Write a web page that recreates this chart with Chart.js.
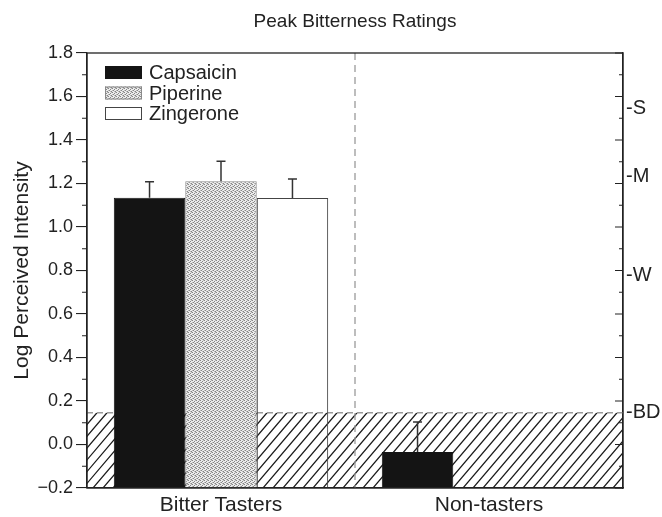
<!DOCTYPE html>
<html>
<head>
<meta charset="utf-8">
<script src="https://cdn.jsdelivr.net/npm/chart.js@4.4.1/dist/chart.umd.min.js"></script>
<style>
  html, body { margin: 0; padding: 0; background: #fff; }
  #wrap { width: 662px; height: 517px; }
</style>
</head>
<body>
<div id="wrap"><canvas id="c" width="662" height="517"></canvas></div>
<script>
// Groups and peak bitterness (log perceived intensity), with upper SE bars
const groups = ['Bitter Tasters', 'Non-tasters'];
const capsaicin = [1.135, -0.034];
const piperine = [1.21, null];
const zingerone = [1.133, null];
const capsaicinErr = [0.073, 0.137];
const piperineErr = [0.092, null];
const zingeroneErr = [0.088, null];

// Left axis ticks (labelled) and the gLMS descriptor positions on the right axis
const yTickValues = [-0.2, 0.0, 0.2, 0.4, 0.6, 0.8, 1.0, 1.2, 1.4, 1.6, 1.8];
const scaleLabels = ['-BD', '-W', '-M', '-S'];
const scaleValues = [0.146, 0.778, 1.230, 1.544];

const Y_MIN = -0.2, Y_MAX = 1.8;
const FONT = '"Liberation Sans", Arial, Helvetica, sans-serif';
const INK = '#222';

const canvas = document.getElementById('c');
const ctx = canvas.getContext('2d');

function makeStipple() {
  const c = document.createElement('canvas');
  c.width = 4; c.height = 4;
  const g = c.getContext('2d');
  g.fillStyle = '#ececec'; g.fillRect(0, 0, 4, 4);
  g.fillStyle = '#858585';
  [[0, 0], [2, 1], [1, 2], [3, 3]].forEach(([a, b]) => g.fillRect(a, b, 1, 1));
  g.fillStyle = '#b8b8b8';
  [[2, 3], [0, 2], [3, 0]].forEach(([a, b]) => g.fillRect(a, b, 1, 1));
  return ctx.createPattern(c, 'repeat');
}
const stipple = makeStipple();

function fmtTick(v) {
  if (Math.abs(v) < 1e-9) return '0.0';
  return v < 0 ? '\u2212' + Math.abs(v).toFixed(1) : v.toFixed(1);
}

// Hatched "below detection" zone, its dashed upper edge and the group divider
const backdrop = {
  id: 'backdrop',
  beforeDatasetsDraw(chart) {
    const { ctx, chartArea: a, scales: { x, y } } = chart;
    const top = y.getPixelForValue(scaleValues[0]);
    const bottom = a.bottom;
    ctx.save();
    ctx.beginPath();
    ctx.rect(a.left, top, a.right - a.left, bottom - top);
    ctx.clip();
    ctx.strokeStyle = '#1c1c1c';
    ctx.lineWidth = 1.2;
    const h = bottom - top;
    const slant = h * 0.85;
    ctx.beginPath();
    for (let x0 = a.left - slant; x0 < a.right + 12; x0 += 10) {
      ctx.moveTo(x0, bottom);
      ctx.lineTo(x0 + slant, top);
    }
    ctx.stroke();
    ctx.restore();

    ctx.save();
    ctx.strokeStyle = '#9a9a9a';
    ctx.lineWidth = 1.3;
    ctx.setLineDash([6, 4]);
    ctx.beginPath();
    ctx.moveTo(a.left, top);
    ctx.lineTo(a.right, top);
    ctx.stroke();
    const mid = (x.getPixelForValue(0) + x.getPixelForValue(1)) / 2;
    ctx.setLineDash([7, 5]);
    ctx.beginPath();
    ctx.moveTo(mid, a.top);
    ctx.lineTo(mid, a.bottom);
    ctx.stroke();
    ctx.restore();
  }
};

// Upper error bars, frame, minor ticks, legend and title
const overlay = {
  id: 'overlay',
  afterDatasetsDraw(chart) {
    const { ctx, scales: { y } } = chart;
    ctx.save();
    ctx.strokeStyle = '#333';
    ctx.lineWidth = 1.5;
    chart.data.datasets.forEach((ds, di) => {
      const meta = chart.getDatasetMeta(di);
      meta.data.forEach((el, i) => {
        const v = ds.data[i];
        const e = ds.err[i];
        if (v == null || e == null) return;
        const yTop = y.getPixelForValue(v + e);
        ctx.beginPath();
        ctx.moveTo(el.x, el.y);
        ctx.lineTo(el.x, yTop);
        ctx.moveTo(el.x - 4.5, yTop);
        ctx.lineTo(el.x + 4.5, yTop);
        ctx.stroke();
      });
    });
    ctx.restore();
  },
  afterDraw(chart) {
    const { ctx, chartArea: a, scales: { y, y2 } } = chart;
    ctx.save();
    // frame
    ctx.strokeStyle = INK;
    ctx.lineWidth = 1.3;
    ctx.strokeRect(a.left, a.top, a.right - a.left, a.bottom - a.top);
    // minor ticks left (outward) and all ticks right (inward)
    ctx.lineWidth = 1.1;
    ctx.beginPath();
    for (let i = -2; i <= 18; i++) {
      const v = i / 10;
      const py = y.getPixelForValue(v);
      if (i % 2 !== 0) {
        ctx.moveTo(a.left - 5, py);
        ctx.lineTo(a.left, py);
      }
      const py2 = y2.getPixelForValue(v);
      const len = (i % 2 === 0) ? 8 : 4;
      ctx.moveTo(a.right - len, py2);
      ctx.lineTo(a.right, py2);
    }
    ctx.stroke();

    // legend
    const lx = a.left + 18, ly = a.top + 13, bw = 37, bh = 13, pitch = 20.5;
    ctx.font = '20px ' + FONT;
    ctx.textBaseline = 'middle';
    ctx.textAlign = 'left';
    chart.data.datasets.forEach((ds, i) => {
      const by = ly + i * pitch;
      ctx.fillStyle = ds.legendFill;
      ctx.fillRect(lx, by, bw, bh);
      ctx.strokeStyle = ds.borderColor;
      ctx.lineWidth = 1;
      ctx.strokeRect(lx + 0.5, by + 0.5, bw - 1, bh - 1);
      ctx.fillStyle = INK;
      ctx.fillText(ds.label, lx + bw + 7, by + bh / 2 + 1);
    });

    // title
    ctx.font = '19px ' + FONT;
    ctx.textAlign = 'center';
    ctx.fillStyle = INK;
    ctx.fillText('Peak Bitterness Ratings', (a.left + a.right) / 2, 22);
    ctx.restore();
  }
};

new Chart(ctx, {
  type: 'bar',
  data: {
    labels: groups,
    datasets: [
      { label: 'Capsaicin', data: capsaicin, err: capsaicinErr,
        backgroundColor: '#141414', borderColor: '#141414', legendFill: '#141414', borderWidth: 1 },
      { label: 'Piperine', data: piperine, err: piperineErr,
        backgroundColor: stipple, borderColor: '#8a8a8a', legendFill: stipple, borderWidth: 1 },
      { label: 'Zingerone', data: zingerone, err: zingeroneErr,
        backgroundColor: 'rgba(255,255,255,0)', borderColor: '#444', legendFill: '#fff', borderWidth: 1 }
    ]
  },
  options: {
    responsive: false,
    animation: false,
    devicePixelRatio: 1,
    layout: { padding: { top: 53, right: 0, bottom: 0, left: 0 } },
    datasets: { bar: { base: Y_MIN, categoryPercentage: 0.8, barPercentage: 1.0 } },
    plugins: { legend: { display: false }, tooltip: { enabled: false }, title: { display: false } },
    scales: {
      x: {
        grid: { display: false, drawTicks: false },
        border: { display: true, color: INK, width: 1.3 },
        ticks: { color: INK, font: { family: FONT, size: 21 }, padding: 5 },
        afterFit: s => { s.height = 29; }
      },
      y: {
        position: 'left',
        min: Y_MIN, max: Y_MAX,
        afterBuildTicks: s => { s.ticks = yTickValues.map(v => ({ value: v })); },
        ticks: { color: INK, font: { family: FONT, size: 18 }, padding: 3,
                 callback: v => fmtTick(v) },
        grid: { drawOnChartArea: false, drawTicks: true, tickLength: 11, color: INK, lineWidth: 1.1 },
        border: { display: true, color: INK, width: 1.3 },
        title: { display: true, text: 'Log Perceived Intensity', color: INK,
                 font: { family: FONT, size: 21 }, padding: { top: 10, bottom: 0 } },
        afterFit: s => { s.width = 87; }
      },
      y2: {
        position: 'right',
        min: Y_MIN, max: Y_MAX,
        afterBuildTicks: s => { s.ticks = scaleValues.map(v => ({ value: v })); },
        ticks: { color: INK, font: { family: FONT, size: 20 }, padding: 3,
                 callback: (v, i) => scaleLabels[i] },
        grid: { display: false, drawTicks: false },
        border: { display: true, color: INK, width: 1.3 },
        afterFit: s => { s.width = 39; }
      }
    }
  },
  plugins: [backdrop, overlay]
});
</script>
</body>
</html>
